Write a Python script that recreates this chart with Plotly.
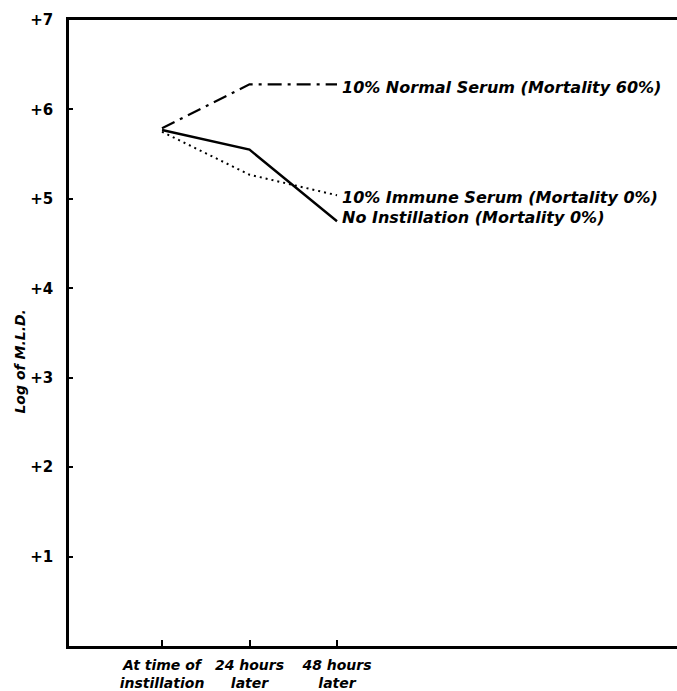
import plotly.graph_objects as go

# ---- data ----
x_pos = [1, 2, 3]
x_labels = ["At time of<br>instillation", "24 hours<br>later", "48 hours<br>later"]
y_ticks = [1, 2, 3, 4, 5, 6, 7]
y_tick_labels = ["+1", "+2", "+3", "+4", "+5", "+6", "+7"]

normal_serum = [5.79, 6.28, 6.28]
immune_serum = [5.75, 5.27, 5.04]
no_instillation = [5.77, 5.55, 4.75]

label_normal = "10% Normal Serum (Mortality 60%)"
label_immune = "10% Immune Serum (Mortality 0%)"
label_none = "No Instillation (Mortality 0%)"

FONT = "DejaVu Sans"

fig = go.Figure()
fig.add_trace(go.Scatter(x=x_pos, y=normal_serum, mode="lines",
                         line=dict(color="black", width=2.2, dash="14px,6px,3px,6px")))
fig.add_trace(go.Scatter(x=x_pos, y=immune_serum, mode="lines",
                         line=dict(color="black", width=2, dash="2px,4px")))
fig.add_trace(go.Scatter(x=x_pos, y=no_instillation, mode="lines",
                         line=dict(color="black", width=2.4)))

ann_font = dict(family=FONT, size=16, color="black", weight="bold", style="italic")
fig.add_annotation(x=x_pos[-1], y=normal_serum[-1], text=label_normal, xanchor="left",
                   showarrow=False, xshift=3, yshift=-3, font=ann_font)
fig.add_annotation(x=x_pos[-1], y=immune_serum[-1], text=label_immune, xanchor="left",
                   showarrow=False, xshift=3, yshift=-2, font=ann_font)
fig.add_annotation(x=x_pos[-1], y=no_instillation[-1], text=label_none, xanchor="left",
                   showarrow=False, xshift=3, yshift=4, font=ann_font)
fig.add_annotation(xref="paper", yref="paper", x=-0.081, y=0.454, text="Log of M.L.D.",
                   textangle=-90, showarrow=False, xanchor="center", yanchor="middle",
                   font=dict(family=FONT, size=14, color="black", weight="bold", style="italic"))

fig.update_layout(
    width=677, height=691,
    margin=dict(l=69, r=0, t=20, b=45),
    paper_bgcolor="white", plot_bgcolor="white",
    showlegend=False,
    xaxis=dict(range=[-0.063, 6.886], tickvals=x_pos, ticktext=x_labels,
               showgrid=False, zeroline=False, showline=True, linecolor="black", linewidth=2.5,
               mirror=True, ticks="inside", ticklen=6, tickwidth=2, tickcolor="black",
               ticklabelstandoff=4,
               tickfont=dict(family=FONT, size=14, color="black", weight="bold", style="italic")),
    yaxis=dict(range=[0, 7], tickvals=y_ticks, ticktext=y_tick_labels,
               showgrid=False, zeroline=False, showline=True, linecolor="black", linewidth=2.5,
               ticks="inside", ticklen=4, tickwidth=2, tickcolor="black",
               ticklabelstandoff=10,
               tickfont=dict(family=FONT, size=15, color="black", weight="bold")),
)

fig.write_html("out.html")
